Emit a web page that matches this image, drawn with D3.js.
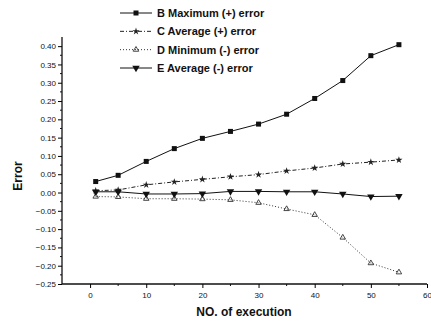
<!DOCTYPE html>
<html>
<head>
<meta charset="utf-8">
<script src="https://cdn.jsdelivr.net/npm/d3@7"></script>
<style>
  body { margin: 0; background: #fff; }
  text { font-family: "Liberation Sans", Arial, sans-serif; fill: #111; }
  .tick-label { font-size: 8px; }
  .legend-label { font-size: 11px; font-weight: bold; }
  .axis-title { font-size: 12px; font-weight: bold; }
</style>
</head>
<body>
<div id="chart"></div>
<script>
// Data
const executions = [1, 5, 10, 15, 20, 25, 30, 35, 40, 45, 50, 55];
const maxPositive = [0.030, 0.047, 0.085, 0.120, 0.148, 0.167, 0.187, 0.214, 0.257, 0.306, 0.374, 0.404];
const avgPositive = [0.005, 0.007, 0.021, 0.029, 0.036, 0.043, 0.049, 0.059, 0.067, 0.078, 0.083, 0.089];
const minNegative = [-0.011, -0.012, -0.017, -0.017, -0.018, -0.020, -0.028, -0.045, -0.061, -0.123, -0.193, -0.218];
const avgNegative = [0.002, 0.002, -0.004, -0.004, -0.003, 0.003, 0.003, 0.002, 0.002, -0.004, -0.011, -0.010];
const seriesNames = ["B Maximum (+) error", "C Average (+) error", "D Minimum (-) error", "E Average (-) error"];
const xTicks = [0, 10, 20, 30, 40, 50, 60];
const yTicks = [-0.25, -0.20, -0.15, -0.10, -0.05, 0.00, 0.05, 0.10, 0.15, 0.20, 0.25, 0.30, 0.35, 0.40];

document.addEventListener("DOMContentLoaded", function () {
    const width = 431, height = 322;

    const svg = d3.select("#chart").append("svg")
        .attr("width", width)
        .attr("height", height);

    const x = d3.scaleLinear().domain([-5, 60]).range([62, 427]);
    const y = d3.scaleLinear().domain([-0.25, 0.425]).range([284, 37]);

    // series styles
    const series = [
        { name: seriesNames[0], values: maxPositive, dash: null, marker: "square", stroke: "#111" },
        { name: seriesNames[1], values: avgPositive, dash: "4,2,1,2", marker: "star", stroke: "#222" },
        { name: seriesNames[2], values: minNegative, dash: "1,2", marker: "triangle", stroke: "#333" },
        { name: seriesNames[3], values: avgNegative, dash: null, marker: "down", stroke: "#111" }
    ];

    // Axes
    const yAxis = d3.axisLeft(y)
        .tickValues(yTicks)
        .tickSize(4)
        .tickFormat(d3.format(".2f"));
    const gy = svg.append("g")
        .attr("transform", "translate(62,0)")
        .call(yAxis);
    gy.select(".domain").attr("d", "M0," + y.range()[1] + "V" + y.range()[0]).attr("stroke", "#111").attr("stroke-width", 1.3);
    gy.selectAll("text").attr("class", "tick-label").attr("x", -6);

    // minor y ticks
    svg.append("g").selectAll("line")
        .data(d3.range(-0.225, 0.425, 0.05))
        .join("line")
        .attr("x1", 62).attr("x2", 60)
        .attr("y1", d => y(d)).attr("y2", d => y(d))
        .attr("stroke", "#111");

    const xAxis = d3.axisBottom(x)
        .tickValues(xTicks)
        .tickSize(4)
        .tickFormat(d3.format("d"));
    const gx = svg.append("g")
        .attr("transform", "translate(0,284)")
        .call(xAxis);
    gx.select(".domain").attr("d", "M" + x.range()[0] + ",0H" + x.range()[1]).attr("stroke", "#111").attr("stroke-width", 1.3);
    gx.selectAll("text").attr("class", "tick-label").attr("y", 8);

    // minor x ticks
    svg.append("g").selectAll("line")
        .data([5, 15, 25, 35, 45, 55])
        .join("line")
        .attr("x1", d => x(d)).attr("x2", d => x(d))
        .attr("y1", 284).attr("y2", 286)
        .attr("stroke", "#111");

    // Axis titles
    svg.append("text")
        .attr("class", "axis-title")
        .attr("transform", "translate(22,176) rotate(-90)")
        .attr("text-anchor", "middle")
        .text("Error");

    svg.append("text")
        .attr("class", "axis-title")
        .attr("x", 244)
        .attr("y", 316)
        .attr("text-anchor", "middle")
        .text("NO. of execution");

    // marker drawing
    function drawMarker(g, type, cx, cy) {
        if (type === "square") {
            g.append("rect").attr("x", cx - 2.5).attr("y", cy - 2.5).attr("width", 5).attr("height", 5).attr("fill", "#111");
        } else if (type === "star") {
            g.append("path").attr("d", d3.symbol(d3.symbolStar, 16)()).attr("transform", `translate(${cx},${cy})`).attr("fill", "#222");
        } else if (type === "triangle") {
            g.append("path").attr("d", d3.symbol(d3.symbolTriangle, 13)()).attr("transform", `translate(${cx},${cy})`)
                .attr("fill", "none").attr("stroke", "#333").attr("stroke-width", 0.9);
        } else if (type === "down") {
            g.append("path").attr("d", d3.symbol(d3.symbolTriangle, 24)()).attr("transform", `translate(${cx},${cy}) rotate(180)`).attr("fill", "#111");
        }
    }

    const line = d3.line()
        .x((d, i) => x(executions[i]))
        .y(d => y(d));

    series.forEach(s => {
        svg.append("path")
            .datum(s.values)
            .attr("d", line)
            .attr("fill", "none")
            .attr("stroke", s.stroke)
            .attr("stroke-width", 1)
            .attr("stroke-dasharray", s.dash);
        const g = svg.append("g");
        s.values.forEach((v, i) => drawMarker(g, s.marker, x(executions[i]), y(v)));
    });

    // Legend
    const legendY = d3.scaleLinear().domain([0, 3]).range([13, 68]);
    series.forEach((s, i) => {
        const ly = legendY(i);
        svg.append("line")
            .attr("x1", 120).attr("x2", 152)
            .attr("y1", ly).attr("y2", ly)
            .attr("stroke", s.stroke)
            .attr("stroke-width", 1)
            .attr("stroke-dasharray", s.dash);
        drawMarker(svg, s.marker, 136, ly);
        svg.append("text")
            .attr("class", "legend-label")
            .attr("x", 157)
            .attr("y", ly + 4)
            .text(s.name);
    });
});
</script>
</body>
</html>
